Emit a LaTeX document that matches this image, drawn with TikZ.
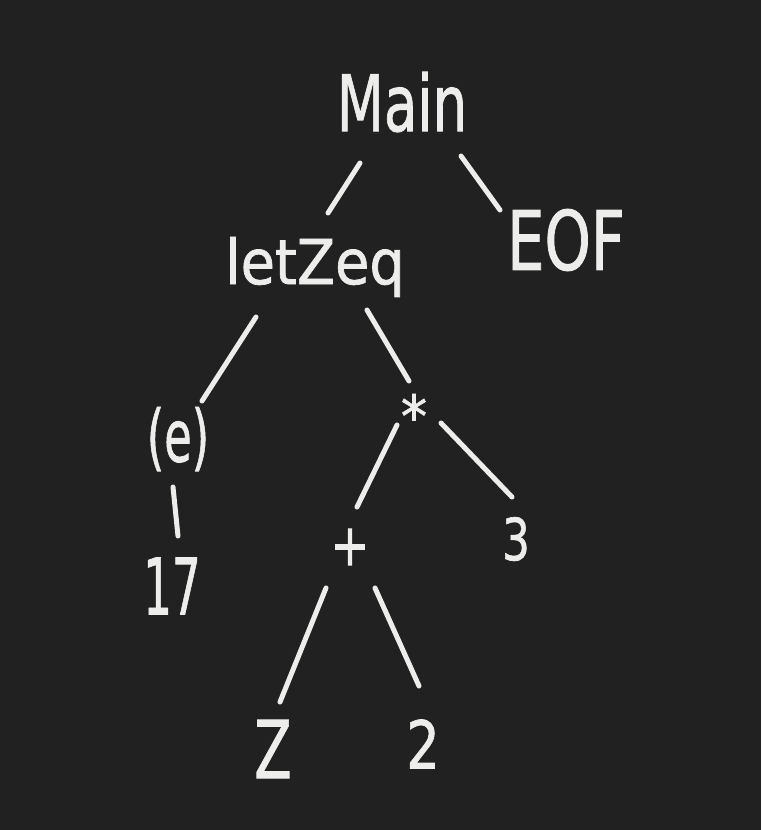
\documentclass[tikz,border=0pt]{standalone}
\usepackage{fontspec}
\usepackage{graphicx}
\setmainfont{DejaVu Sans}[BoldFont={DejaVu Sans}, BoldFeatures={FakeBold=1.2}]
\usetikzlibrary{calc}
\definecolor{bg}{HTML}{212121}
\definecolor{ink}{HTML}{EDEDEB}
\newcommand{\hw}[3]{{\fontsize{#1}{#1}\selectfont\bfseries\scalebox{#2}[1]{#3}}}
\begin{document}
\begin{tikzpicture}[x=1pt,y=-1pt,
  lbl/.style={text=ink, inner sep=0pt, anchor=center},
  edge/.style={draw=ink, line width=5pt, line cap=round}]
\fill[bg] (0,0) rectangle (761,830);
\useasboundingbox (0,0) rectangle (761,830);
% nodes
\node[lbl] (main) at (402,102) {\hw{78}{0.70}{Main}};
\node[lbl] (eof)  at (566,240) {\hw{82}{0.72}{EOF}};
\node[lbl] (let)  at (315,267) {\hw{62}{0.90}{letZeq}};
\node[lbl] (e)    at (178,439) {\hw{72}{0.62}{(e)}};
\node[lbl, anchor=base] (star) at (414,437) {\hw{58}{0.9}{*}};
\node[lbl] (n17)  at (172,586) {\hw{78}{0.58}{17}};
\node[lbl] (plus) at (350,547) {\hw{58}{0.8}{+}};
\node[lbl] (n3)   at (516,539) {\hw{58}{0.75}{3}};
\node[lbl] (z)    at (273,749) {\hw{80}{0.68}{Z}};
\node[lbl] (n2)   at (423,744) {\hw{66}{0.8}{2}};
% edges
\draw[edge] ($(main)+(-42,61)$) -- ($(let)+(13,-54)$);
\draw[edge] ($(main)+(59,54)$) -- ($(eof)+(-66,-30)$);
\draw[edge] ($(let)+(-59,50)$) -- ($(e)+(24,-38)$);
\draw[edge] ($(let)+(52,43)$) -- ($(star.base)+(-5,-56)$);
\draw[edge] ($(e)+(-5,48)$) -- ($(n17)+(6,-50)$);
\draw[edge] ($(star.base)+(-17,-12)$) -- ($(plus)+(7,-40)$);
\draw[edge] ($(star.base)+(27,-14)$) -- ($(n3)+(-4,-42)$);
\draw[edge] ($(plus)+(-24,41)$) -- ($(z)+(7,-47)$);
\draw[edge] ($(plus)+(25,41)$) -- ($(n2)+(-4,-58)$);
\end{tikzpicture}
\end{document}
